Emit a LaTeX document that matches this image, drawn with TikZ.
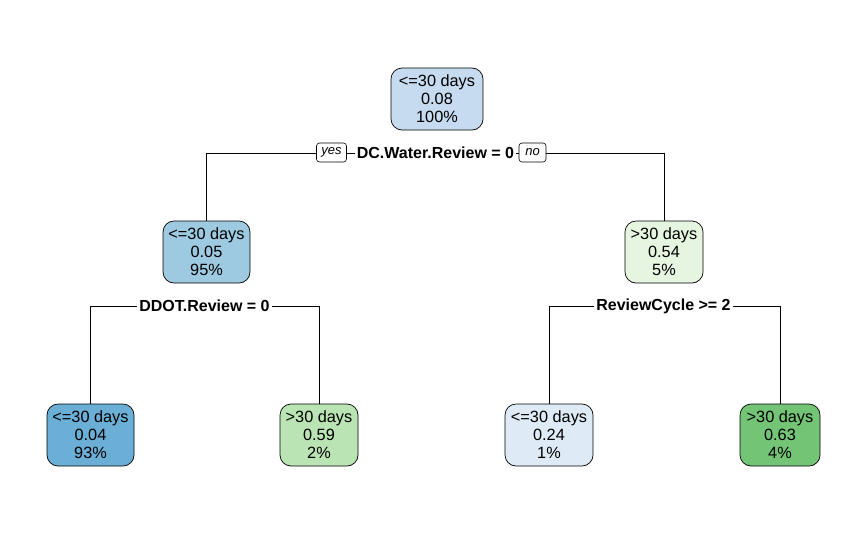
\documentclass[tikz,border=0pt]{standalone}
\usepackage{fontspec}
\setmainfont{Liberation Sans}
\definecolor{cRoot}{RGB}{198,219,239}
\definecolor{cTwo}{RGB}{158,202,225}
\definecolor{cFour}{RGB}{107,174,214}
\definecolor{cThree}{RGB}{229,245,224}
\definecolor{cFive}{RGB}{186,228,179}
\definecolor{cSix}{RGB}{222,235,247}
\definecolor{cSeven}{RGB}{116,196,118}
\tikzset{
  treenode/.style={draw=black, line width=0.7pt, rounded corners=11pt, align=center,
    minimum height=62pt, inner xsep=3pt, inner ysep=0pt,
    font=\fontsize{16.3}{18}\selectfont},
  splitlbl/.style={fill=white, inner xsep=2pt, inner ysep=1pt, font=\bfseries\fontsize{16}{18}\selectfont},
  yesno/.style={draw=black, fill=white, line width=0.6pt, rounded corners=3pt, inner xsep=3pt, inner ysep=1.5pt,
    minimum height=19pt, minimum width=30pt, font=\itshape\fontsize{13}{14}\selectfont},
  edge/.style={draw=black, line width=0.7pt}
}
\begin{document}
\begin{tikzpicture}[x=1pt,y=-1pt]
\useasboundingbox (0,0) rectangle (866,538);
% nodes
\node[treenode, fill=cRoot, minimum width=92pt] (n1) at (437,99) {<=30 days\\0.08\\100\%};
\node[treenode, fill=cTwo, minimum width=87pt] (n2) at (206.5,252) {<=30 days\\0.05\\95\%};
\node[treenode, fill=cThree, minimum width=78pt] (n3) at (664,252) {>30 days\\0.54\\5\%};
\node[treenode, fill=cFour, minimum width=87pt] (n4) at (90.5,435) {<=30 days\\0.04\\93\%};
\node[treenode, fill=cFive, minimum width=78pt] (n5) at (319,435) {>30 days\\0.59\\2\%};
\node[treenode, fill=cSix, minimum width=88pt] (n6) at (549,435) {<=30 days\\0.24\\1\%};
\node[treenode, fill=cSeven, minimum width=80pt] (n7) at (780,435) {>30 days\\0.63\\4\%};
% split labels
\node[splitlbl] (s1) at (435.5,153) {DC.Water.Review = 0};
\node[splitlbl] (s2) at (204.5,306) {DDOT.Review = 0};
\node[splitlbl] (s3) at (663.5,306) {ReviewCycle >= 2};
% connectors
\draw[edge] (n2.north) |- (s1.west);
\draw[edge] (s1.east) -| (n3.north);
\draw[edge] (n4.north) |- (s2.west);
\draw[edge] (s2.east) -| (n5.north);
\draw[edge] (n6.north) |- (s3.west);
\draw[edge] (s3.east) -| (n7.north);
% yes / no
\node[yesno] (yes) at (331.5,152.5) {yes};
\node[yesno, minimum width=27pt] (no) at (532.5,152.5) {no};
\end{tikzpicture}
\end{document}
